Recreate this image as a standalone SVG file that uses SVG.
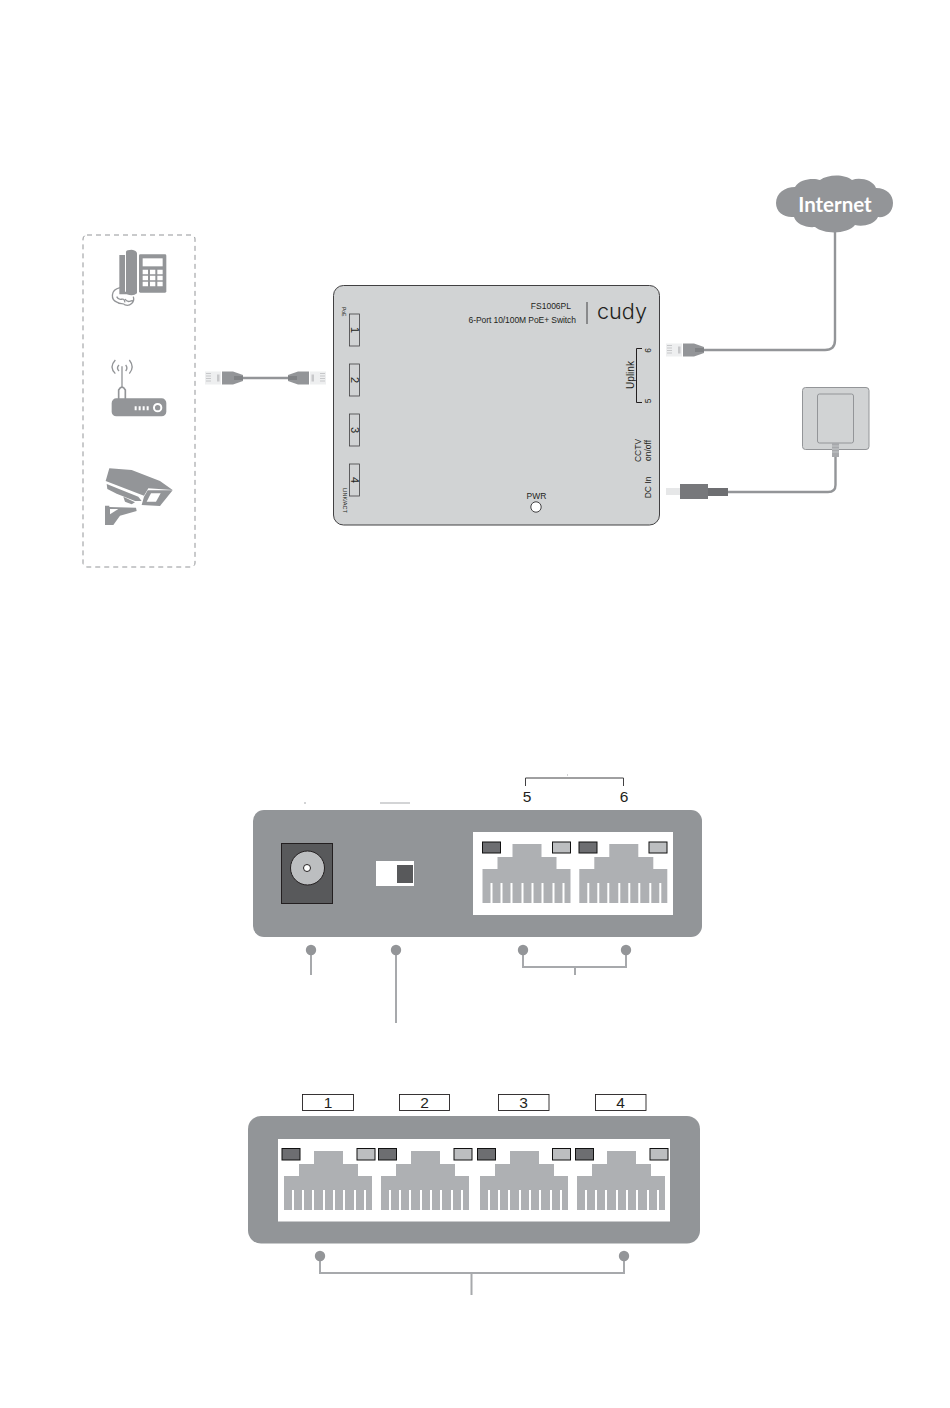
<svg xmlns="http://www.w3.org/2000/svg" xmlns:xlink="http://www.w3.org/1999/xlink" width="950" height="1408" viewBox="0 0 950 1408">
<style>
text{font-family:"Liberation Sans",Arial,sans-serif;fill:#231f20}
.g{fill:#939598}
.wire{fill:none;stroke:#939598;stroke-width:2.400}
.thin{fill:none;stroke:#a7a9ac;stroke-width:2}
.box{fill:#d1d3d4;stroke:#414042;stroke-width:.8}
.lab{fill:#fff;stroke:#231f20;stroke-width:.9}
.panel{fill:#929598}
.pf{fill:#aeb0b3}
.ld{fill:#6d6e71;stroke:#111;stroke-width:1}
.ll{fill:#bcbec0;stroke:#111;stroke-width:1}
.s{font-size:6px}
.m{font-size:8.5px}
.n{font-size:11px}
.b{font-size:15.5px;text-anchor:middle}
</style>
<defs>
<g id="port">
<path class="pf" d="M30 0H59V13H74V25H88V59H0V25H15V13H30Z"/>
<path fill="#fff" d="M8 39h2v20h-2zM18 39h2v20h-2zM28 39h2v20h-2zM39 39h2v20h-2zM49 39h2v20h-2zM59 39h2v20h-2zM70 39h2v20h-2zM80 39h2v20h-2z"/>
</g>
<g id="plug">
<rect x="0" y="1" width="16" height="13" fill="#eeeff0"/>
<path d="M1 3h5M1 5.500h5M1 8h5M1 10.500h5" stroke="#c7c8ca" fill="none"/>
<rect x="12" y="4" width="2.500" height="7" fill="#c7c8ca"/>
<path d="M17 1H28L38 4.500V10.500L28 14H17Z" fill="#939598"/>
<path d="M29 5.500H38V9.500H29Z" fill="#808285"/>
</g>
</defs>

<g id="connectors">
<path class="wire" d="M835 232V340Q835 350 825 350H704"/>
<path class="wire" d="M243 378H288"/>
<path class="wire" d="M728 492H828Q835.500 492 835.500 485V457"/>
<path class="thin" d="M311 950V975"/>
<path class="thin" d="M396 950V1023"/>
<path class="thin" d="M523 950V967H626V950M575 967V975"/>
<path class="thin" d="M320 1256V1273H624V1256M471.500 1273V1295"/>
<path fill="none" stroke="#414042" d="M525.500 786V778H623.500V786"/>
<path stroke="#a7a9ac" d="M567.500 774.500v1M304 803h2M380 803h30"/>
</g>

<g id="device-group">
<rect x="83" y="235" width="112" height="332" rx="4" fill="none" stroke="#939598" stroke-dasharray="5 4"/>
</g>

<g id="phone" transform="translate(70 225) scale(.3333)">
<path class="g" d="M148 90H168V80Q170 74 185 74Q200 76 201 85V205Q190 215 170 208H148Z"/>
<path fill="#fff" d="M165 88h3v112h-3z"/>
<rect class="g" x="207" y="88" width="82" height="115" rx="4"/>
<rect fill="#fff" x="218" y="100" width="60" height="24"/>
<path fill="#fff" d="M218 134h16v14h-16zM240 134h16v14h-16zM262 134h16v14h-16zM218 152h16v14h-16zM240 152h16v14h-16zM262 152h16v14h-16zM218 170h16v14h-16zM240 170h16v14h-16zM262 170h16v14h-16z"/>
<path fill="none" stroke="#939598" stroke-width="4" d="M150 188C120 195 122 225 142 232C150 240 160 232 165 240C180 245 195 232 190 215M140 215C150 235 160 210 165 232M165 222C175 240 185 220 190 230"/>
</g>

<g id="router" transform="translate(70 225) scale(.3333)">
<path fill="none" stroke="#939598" stroke-width="4" d="M136 405C122 420 122 432 136 446M178 405C190 420 190 432 178 446M147 420C141 426 141 432 147 438M167 420C172 426 172 432 167 438"/>
<path fill="none" stroke="#939598" stroke-width="4" d="M156 424V486"/>
<path fill="none" stroke="#939598" stroke-width="5" d="M146 522V495Q156 478 166 495V522"/>
<rect class="g" x="125" y="520" width="164" height="54" rx="14"/>
<path fill="#fff" d="M194 544h6v12h-6zM206 544h6v12h-6zM218 544h6v12h-6zM230 544h6v12h-6z"/>
<circle cx="263" cy="548" r="11" fill="none" stroke="#fff" stroke-width="6"/>
</g>

<g id="camera" transform="translate(70 225) scale(.3333)">
<path class="g" d="M107 768L118 730L185 735L270 768L308 795L235 790L222 812Z"/>
<path class="g" d="M110 777L205 815L215 828L195 828L140 806L112 792Z"/>
<path class="g" d="M233 796H308L270 843L215 840L222 815Z"/>
<path fill="#fff" d="M243 805H272L258 830H230Z"/>
<path class="g" d="M160 815L195 832L185 838L165 830Z"/>
<path class="g" d="M105 842H118V846L198 848L200 858L150 872L130 900H105Z"/>
<path fill="#fff" d="M120 852H145L120 868Z"/>
</g>

<g id="cloud">
<path class="g" d="M776 203C776 193 785 187 795 187C800 178 815 178 820 180C828 174 845 174 852 180C860 177 873 180 876 188C887 188 893 195 893 203C893 213 885 218 878 217C874 225 862 227 855 225C848 234 825 235 815 227C806 228 796 224 794 217C784 218 776 212 776 203Z"/>
<text x="835" y="211.500" text-anchor="middle" style="font-family:Lato,'Liberation Sans',sans-serif;fill:#fff;font-size:20.500px;font-weight:700">Internet</text>
</g>

<g id="adapter">
<rect x="802.500" y="387.500" width="66.500" height="62" rx="3" fill="#d1d3d4" stroke="#939598"/>
<rect x="817.500" y="394" width="36" height="49" rx="2" fill="#d1d3d4" stroke="#939598"/>
<rect x="832" y="443" width="7" height="14" fill="#a7a9ac"/>
<path d="M832 446h7M832 449h7M832 452h7" stroke="#d1d3d4" stroke-width=".7"/>
</g>

<g id="dc-plug">
<rect x="666" y="488" width="15" height="7" fill="#e6e7e8"/>
<rect x="680" y="484" width="28" height="15" fill="#77787b"/>
<rect x="708" y="488" width="20" height="8" fill="#6d6e71"/>
</g>

<g id="rj45-left"><use xlink:href="#plug" href="#plug" transform="translate(205 370.500)"/></g>
<g id="rj45-right"><use xlink:href="#plug" href="#plug" transform="translate(326 370.500) scale(-1 1)"/></g>
<g id="rj45-uplink"><use xlink:href="#plug" href="#plug" transform="translate(666 342.500)"/></g>

<g id="switch-top">
<rect x="333.500" y="285.500" width="326" height="239.500" rx="10" fill="#d1d3d4" stroke="#414042" stroke-width="1"/>
<rect class="box" x="349.500" y="314" width="10" height="32"/>
<rect class="box" x="349.500" y="364" width="10" height="32"/>
<rect class="box" x="349.500" y="414" width="10" height="32"/>
<rect class="box" x="349.500" y="464" width="10" height="32"/>
<text class="n" text-anchor="middle" transform="translate(350.500 330) rotate(90)">1</text>
<text class="n" text-anchor="middle" transform="translate(350.500 380) rotate(90)">2</text>
<text class="n" text-anchor="middle" transform="translate(350.500 430) rotate(90)">3</text>
<text class="n" text-anchor="middle" transform="translate(350.500 480) rotate(90)">4</text>
<text class="s" transform="translate(342 307) rotate(90)" style="font-size:5px">PoE</text>
<text class="s" transform="translate(342.500 488) rotate(90)" style="font-size:5.500px">LINK/ACT</text>
<text class="m" x="571" y="309" text-anchor="end">FS1006PL</text>
<text class="m" x="468.500" y="322.700" textLength="107.500">6-Port 10/100M PoE+ Switch</text>
<path d="M587 302V324" stroke="#414042" stroke-width="1"/>
<text x="597" y="319" textLength="50" lengthAdjust="spacingAndGlyphs" style="font-family:Inter,'Liberation Sans',sans-serif;font-size:22px;font-weight:300">cudy</text>
<text class="n" style="font-size:10px" text-anchor="middle" transform="translate(633.500 375) rotate(-90)">Uplink</text>
<path fill="none" stroke="#231f20" d="M642 348.500H636.500V402.500H642"/>
<text class="m" text-anchor="middle" transform="translate(650.500 350.500) rotate(-90)">6</text>
<text class="m" text-anchor="middle" transform="translate(650.500 401) rotate(-90)">5</text>
<text class="m" text-anchor="middle" transform="translate(640.500 450.500) rotate(-90)">CCTV</text>
<text class="m" text-anchor="middle" transform="translate(651 450.500) rotate(-90)">on/off</text>
<text class="m" text-anchor="middle" transform="translate(650.500 487.500) rotate(-90)">DC In</text>
<text class="m" x="536.500" y="498.500" text-anchor="middle">PWR</text>
<circle cx="536" cy="507" r="5.200" fill="#fff" stroke="#414042"/>
</g>

<g id="back-panel">
<rect class="panel" x="253" y="810" width="449" height="127" rx="11"/>
<rect x="281.500" y="843.500" width="51" height="60" fill="#58595b" stroke="#231f20"/>
<circle cx="307.500" cy="868" r="17" fill="#bcbec0" stroke="#231f20"/>
<circle cx="307" cy="868" r="3.500" fill="#fff" stroke="#231f20"/>
<rect x="376" y="861" width="38" height="25" fill="#fff"/>
<rect x="397" y="865" width="16" height="18" fill="#58595b"/>
<rect x="473" y="832" width="200" height="83" fill="#fff"/>
<use xlink:href="#port" href="#port" transform="translate(482.500 844)"/>
<use xlink:href="#port" href="#port" transform="translate(579.300 844)"/>
<rect class="ld" x="482.500" y="842" width="18" height="11"/>
<rect class="ll" x="552.500" y="842" width="18" height="11"/>
<rect class="ld" x="579" y="842" width="18" height="11"/>
<rect class="ll" x="649" y="842" width="18" height="11"/>
<text class="b" x="527" y="802">5</text>
<text class="b" x="624" y="802">6</text>
<circle class="g" cx="311" cy="950" r="5.200"/>
<circle class="g" cx="396" cy="950" r="5.200"/>
<circle class="g" cx="523" cy="950" r="5.200"/>
<circle class="g" cx="626" cy="950" r="5.200"/>
</g>

<g id="front-panel">
<rect class="panel" x="248" y="1116" width="452" height="127.500" rx="13"/>
<rect x="278" y="1139" width="392" height="82.500" fill="#fff"/>
<use xlink:href="#port" href="#port" transform="translate(284 1151)"/>
<use xlink:href="#port" href="#port" transform="translate(381 1151)"/>
<use xlink:href="#port" href="#port" transform="translate(480 1151)"/>
<use xlink:href="#port" href="#port" transform="translate(577 1151)"/>
<rect class="ld" x="282" y="1148.500" width="18" height="11.500"/>
<rect class="ll" x="357" y="1148.500" width="18" height="11.500"/>
<rect class="ld" x="378.500" y="1148.500" width="18" height="11.500"/>
<rect class="ll" x="454" y="1148.500" width="18" height="11.500"/>
<rect class="ld" x="477.500" y="1148.500" width="18" height="11.500"/>
<rect class="ll" x="552.500" y="1148.500" width="18" height="11.500"/>
<rect class="ld" x="575.500" y="1148.500" width="18" height="11.500"/>
<rect class="ll" x="650" y="1148.500" width="18" height="11.500"/>
<rect class="lab" x="302.500" y="1094.500" width="51" height="16"/>
<rect class="lab" x="399.500" y="1094.500" width="50" height="16"/>
<rect class="lab" x="498.500" y="1094.500" width="50.500" height="16"/>
<rect class="lab" x="595.500" y="1094.500" width="50.500" height="16"/>
<text class="b" x="328" y="1108">1</text>
<text class="b" x="424.500" y="1108">2</text>
<text class="b" x="523.500" y="1108">3</text>
<text class="b" x="620.500" y="1108">4</text>
<circle class="g" cx="320" cy="1256" r="5.200"/>
<circle class="g" cx="624" cy="1256" r="5.200"/>
</g>
</svg>
